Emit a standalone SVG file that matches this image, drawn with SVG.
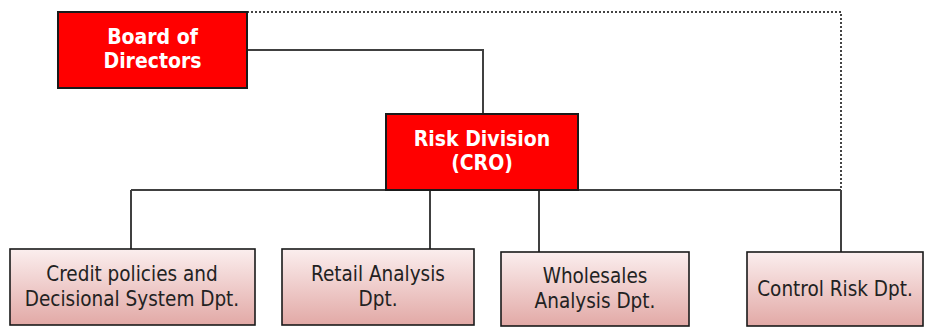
<svg xmlns="http://www.w3.org/2000/svg" width="925" height="327" viewBox="0 0 925 327">
<defs>
<linearGradient id="pink" x1="0" y1="0" x2="0" y2="1">
<stop offset="0" stop-color="#fbeeee"/>
<stop offset="1" stop-color="#e2a9a6"/>
</linearGradient>
</defs>
<style>
.red{fill:#ff0000;stroke:#1a1a1a;stroke-width:2}
.dept{fill:url(#pink);stroke:#1a1a1a;stroke-width:1.6}
.wt{font-family:"DejaVu Sans Condensed","DejaVu Sans",sans-serif;font-weight:bold;font-size:21px;fill:#ffffff;text-anchor:middle}
.bt{font-family:"DejaVu Sans Condensed","DejaVu Sans",sans-serif;font-size:20.5px;fill:#222222;text-anchor:middle}
.ln{fill:none;stroke:#404040;stroke-width:2}
.dot{fill:none;stroke:#444444;stroke-width:2;stroke-dasharray:2 2}
</style>
<rect width="925" height="327" fill="#ffffff"/>
<g id="connectors">
<path class="dot" d="M247 12 H841 V188"/>
<path class="ln" d="M247 50 H483 V114"/>
<path class="ln" d="M131 190 H841"/>
<path class="ln" d="M131 190 V249"/>
<path class="ln" d="M430 190 V249"/>
<path class="ln" d="M539 190 V252"/>
<path class="ln" d="M841 190 V252"/>
</g>
<g id="board">
<rect class="red" x="58" y="12" width="189" height="76"/>
<text class="wt" x="152.5" y="44">Board of</text>
<text class="wt" x="152.5" y="68">Directors</text>
</g>
<g id="risk">
<rect class="red" x="386" y="114" width="192" height="76"/>
<text class="wt" x="482" y="146">Risk Division</text>
<text class="wt" x="482" y="170">(CRO)</text>
</g>
<g id="credit">
<rect class="dept" x="10" y="249" width="245" height="76"/>
<text class="bt" x="132" y="281">Credit policies and</text>
<text class="bt" x="132" y="306">Decisional System Dpt.</text>
</g>
<g id="retail">
<rect class="dept" x="282" y="249" width="192" height="76"/>
<text class="bt" x="378" y="281">Retail Analysis</text>
<text class="bt" x="378" y="306">Dpt.</text>
</g>
<g id="wholesales">
<rect class="dept" x="501" y="252" width="188" height="74"/>
<text class="bt" x="595" y="283">Wholesales</text>
<text class="bt" x="595" y="308">Analysis Dpt.</text>
</g>
<g id="control">
<rect class="dept" x="747" y="252" width="176" height="74"/>
<text class="bt" x="835" y="296">Control Risk Dpt.</text>
</g>
</svg>
